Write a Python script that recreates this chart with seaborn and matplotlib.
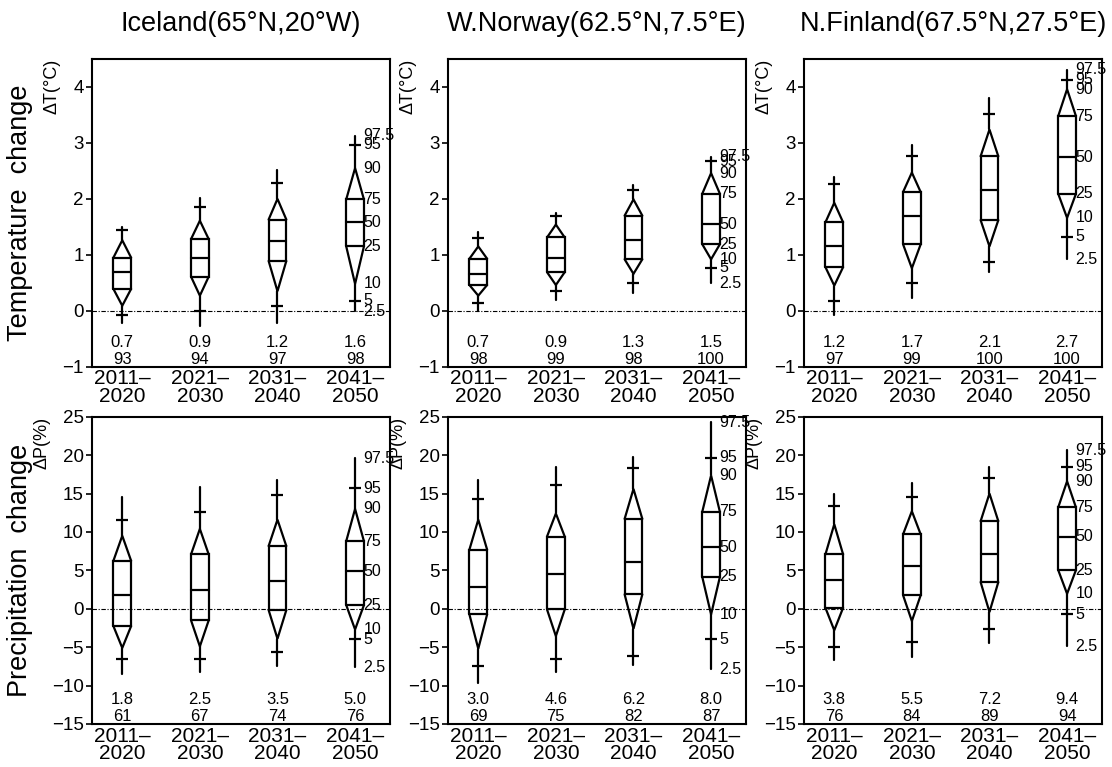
import numpy as np
import pandas as pd
import matplotlib
matplotlib.use("Agg")
import matplotlib.pyplot as plt
import seaborn as sns

# ---------------- data ----------------
periods = ["2011–\n2020", "2021–\n2030", "2031–\n2040", "2041–\n2050"]
regions = ["Iceland(65°N,20°W)", "W.Norway(62.5°N,7.5°E)", "N.Finland(67.5°N,27.5°E)"]
pct_labels = ["2.5", "5", "10", "25", "50", "75", "90", "95", "97.5"]

# percentiles (2.5,5,10,25,50,75,90,95,97.5) for each period
iceland_T = [[-0.22, -0.08, 0.09, 0.39, 0.69, 0.95, 1.26, 1.45, 1.50],
             [-0.27, -0.01, 0.27, 0.61, 0.94, 1.28, 1.61, 1.85, 2.01],
             [-0.21, 0.09, 0.35, 0.89, 1.24, 1.63, 2.00, 2.29, 2.51],
             [-0.01, 0.18, 0.48, 1.15, 1.58, 1.99, 2.55, 2.97, 3.13]]
norway_T = [[0.00, 0.14, 0.27, 0.46, 0.66, 0.93, 1.15, 1.30, 1.40],
            [0.20, 0.36, 0.46, 0.69, 0.94, 1.31, 1.54, 1.69, 1.75],
            [0.32, 0.49, 0.66, 0.92, 1.27, 1.70, 1.99, 2.16, 2.24],
            [0.49, 0.77, 0.92, 1.19, 1.55, 2.09, 2.46, 2.67, 2.75]]
finland_T = [[-0.07, 0.17, 0.45, 0.78, 1.16, 1.58, 1.93, 2.27, 2.39],
             [0.23, 0.49, 0.76, 1.19, 1.69, 2.12, 2.47, 2.76, 2.97],
             [0.70, 0.88, 1.15, 1.62, 2.15, 2.76, 3.24, 3.51, 3.80],
             [0.92, 1.32, 1.66, 2.09, 2.74, 3.48, 3.96, 4.13, 4.31]]
iceland_P = [[-8.5, -6.6, -5.1, -2.26, 1.74, 6.25, 9.5, 11.5, 14.6],
             [-8.2, -6.6, -4.9, -1.5, 2.5, 7.07, 10.4, 12.6, 15.9],
             [-7.5, -5.6, -3.9, -0.17, 3.6, 8.16, 11.6, 14.8, 16.7],
             [-7.6, -4.0, -2.7, 0.48, 4.9, 8.8, 13.0, 15.7, 19.6]]
norway_P = [[-9.7, -7.4, -5.2, -0.74, 2.86, 7.7, 11.6, 14.3, 16.8],
            [-8.2, -6.6, -3.56, -0.09, 4.55, 9.4, 12.4, 16.05, 18.4],
            [-7.3, -6.2, -2.6, 1.87, 6.1, 11.7, 15.6, 18.3, 19.8],
            [-7.9, -4.0, -0.74, 4.16, 8.0, 12.6, 17.35, 19.65, 24.3]]
finland_P = [[-6.7, -5.0, -2.8, 0.13, 3.8, 7.07, 11.0, 13.4, 15.0],
             [-6.25, -4.3, -1.6, 1.78, 5.55, 9.67, 12.7, 14.6, 16.4],
             [-4.5, -2.6, -0.43, 3.47, 7.16, 11.4, 15.0, 17.0, 18.5],
             [-4.86, -0.74, 1.95, 5.03, 9.37, 13.2, 16.6, 18.5, 20.65]]

mean_T = [[0.7, 0.9, 1.2, 1.6], [0.7, 0.9, 1.3, 1.5], [1.2, 1.7, 2.1, 2.7]]
prob_T = [[93, 94, 97, 98], [98, 99, 98, 100], [97, 99, 100, 100]]
mean_P = [[1.8, 2.5, 3.5, 5.0], [3.0, 4.6, 6.2, 8.0], [3.8, 5.5, 7.2, 9.4]]
prob_P = [[61, 67, 74, 76], [69, 75, 82, 87], [76, 84, 89, 94]]

T_ticks = [-1, 0, 1, 2, 3, 4]
P_ticks = [-15, -10, -5, 0, 5, 10, 15, 20, 25]

# ---------------- style ----------------
sns.set_theme(style="white")
plt.rcParams["font.family"] = ["Liberation Sans", "DejaVu Sans"]
plt.rcParams["axes.unicode_minus"] = True
for k in ["text.color", "axes.labelcolor", "xtick.color", "ytick.color", "axes.edgecolor"]:
    plt.rcParams[k] = "black"

W, H = 1112, 767
fig = plt.figure(figsize=(W / 100, H / 100), dpi=100)

lefts = [92, 448, 804]
pw = 298
rows = [(59, 366.7), (416.7, 724)]

def glyph(ax, x, q, hw=0.114, lw=1.6):
    kw = dict(color="black", lw=lw, solid_joinstyle="miter", zorder=3)
    # box (25-75) with median
    ax.plot([x - hw, x + hw, x + hw, x - hw, x - hw], [q[3], q[3], q[5], q[5], q[3]], **kw)
    ax.plot([x - hw, x + hw], [q[4], q[4]], **kw)
    # triangles to 10 and 90
    ax.plot([x - hw, x, x + hw], [q[5], q[6], q[5]], **kw)
    ax.plot([x - hw, x, x + hw], [q[3], q[2], q[3]], **kw)
    # whiskers to 2.5 and 97.5
    ax.plot([x, x], [q[6], q[8]], **kw)
    ax.plot([x, x], [q[0], q[2]], **kw)

datasets = [[iceland_T, norway_T, finland_T], [iceland_P, norway_P, finland_P]]
means = [mean_T, mean_P]
probs = [prob_T, prob_P]
ylims = [(-1, 4.5), (-15, 25)]
yticks = [T_ticks, P_ticks]
ylabels = ["ΔT(°C)", "ΔP(%)"]

for r in range(2):
    top, bot = rows[r]
    for c in range(3):
        ax = fig.add_axes([lefts[c] / W, 1 - bot / H, pw / W, (bot - top) / H])
        qs = datasets[r][c]
        xs = np.arange(len(periods))
        ax.axhline(0, color="black", lw=0.8, linestyle=(0, (4, 1.5, 1, 1.5)), zorder=1)
        for i, q in enumerate(qs):
            glyph(ax, xs[i], q)
        # 5th / 95th percentile crosses via seaborn
        df = pd.DataFrame({
            "x": np.repeat(xs, 2),
            "y": np.array([[q[1], q[7]] for q in qs]).ravel(),
        })
        sns.scatterplot(data=df, x="x", y="y", marker="_", s=70, color="black",
                        linewidth=1.6, ax=ax, legend=False, zorder=3)
        # percentile labels on last glyph
        last = qs[-1]
        for lab, v in zip(pct_labels, last):
            ax.text(xs[-1] + 0.11, v, lab, fontsize=11.5, va="center", ha="left",
                    clip_on=False)
        # mean and probability annotations
        for i in range(len(periods)):
            ax.text(xs[i], 0.080, f"{means[r][c][i]:.1f}", transform=ax.get_xaxis_transform(),
                    ha="center", va="center", fontsize=12)
            ax.text(xs[i], 0.025, f"{probs[r][c][i]:d}", transform=ax.get_xaxis_transform(),
                    ha="center", va="center", fontsize=12)
        ax.set_xlim(-0.39, 3.45)
        ax.set_ylim(*ylims[r])
        ax.set_yticks(yticks[r])
        ax.set_xticks(xs)
        ax.set_xticklabels(periods, fontsize=15, linespacing=0.9)
        ax.tick_params(axis="x", length=0, pad=2)
        ax.tick_params(axis="y", length=4, width=1.2, direction="out", labelsize=13.5, pad=2, left=True)
        ax.set_xlabel("")
        ax.set_ylabel(ylabels[r], loc="top", fontsize=13, labelpad=1)
        for s in ax.spines.values():
            s.set_linewidth(1.5)
            s.set_color("black")
        if r == 0:
            fig.text((lefts[c] + pw / 2) / W, 1 - 24 / H, regions[c], ha="center", va="center",
                     fontsize=19.5)

fig.text(20 / W, 1 - (rows[0][0] + rows[0][1]) / 2 / H, "Temperature  change", rotation=90,
         ha="center", va="center", fontsize=19.5)
fig.text(20 / W, 1 - (rows[1][0] + rows[1][1]) / 2 / H, "Precipitation  change", rotation=90,
         ha="center", va="center", fontsize=19.5)

fig.savefig("out.png", dpi=100)
